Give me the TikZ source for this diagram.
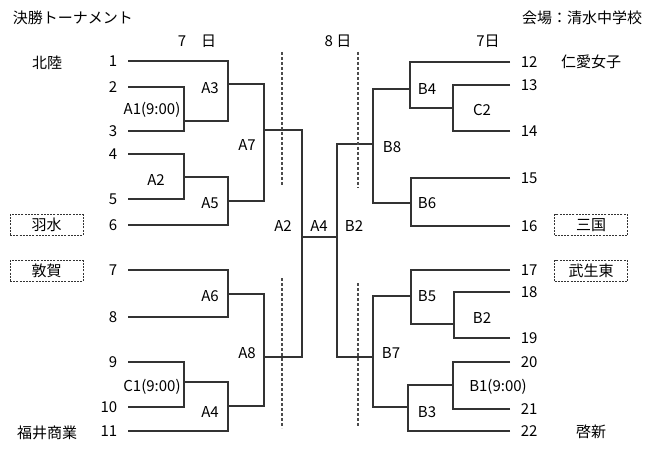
\documentclass[tikz,border=0pt]{standalone}
\usepackage{fontspec}
\setmainfont{Noto Sans CJK JP}
\usepackage{tikz}
\tikzstyle{num}=[draw=none, inner sep=.2mm]
\tikzstyle{team}=[draw=none, inner sep=.2mm]
\tikzstyle{box}=[draw, dash pattern=on 2pt off 1.2pt, line width=1pt, black!80, text=black, minimum width=73pt, minimum height=21pt, inner sep=0pt]
\tikzstyle{m}=[draw=none, inner sep=.2mm]
\tikzstyle{br}=[line width=1.3pt, black!80]
\tikzstyle{sep}=[dash pattern=on 3pt off 2pt, line width=1.3pt, black!70]

\begin{document}
\begin{tikzpicture}[x=1pt, y=-1pt, font=\fontsize{15}{17}\selectfont]
\useasboundingbox (0,0) rectangle (650,462);
% seeds
\foreach \n/\y in {1/61, 2/87, 3/131, 4/154, 5/199, 6/225, 7/270, 8/317, 9/362, 10/407, 11/431}{
  \node[num, anchor=east] (n\n) at (118,\y) {\n};
  \coordinate (s\n) at (128,\y);
}
\foreach \n/\y in {12/62, 13/85, 14/131, 15/178, 16/226, 17/270, 18/292, 19/338, 20/362, 21/409, 22/431}{
  \node[num, anchor=west] (n\n) at (520,\y) {\n};
  \coordinate (s\n) at (510,\y);
}
% match points
\foreach \m/\x/\y in {a1/184/121, a3/228/84, a2/184/177, a5/228/201, a7/264/130,
    a6/228/294, c1/184/382, a4/228/406, a8/264/357, fl/302/237, fr/337/237,
    b8/373/144, b4/410/89, c2/453/108, b6/411/203, b7/373/357, b5/411/296,
    b2/454/324, b3/408/407, b1/453/385}
  \coordinate (\m) at (\x,\y);
\foreach \f/\t in {s1/a3, s2/a1, s3/a1, a1/a3, a3/a7, s4/a2, s5/a2, a2/a5, s6/a5,
    a5/a7, a7/fl, s7/a6, s8/a6, a6/a8, s9/c1, s10/c1, c1/a4, s11/a4, a4/a8, a8/fl,
    s12/b4, s13/c2, s14/c2, c2/b4, b4/b8, s15/b6, s16/b6, b6/b8, b8/fr, s17/b5,
    s18/b2, s19/b2, b2/b5, b5/b7, s20/b1, s21/b1, b1/b3, s22/b3, b3/b7, b7/fr}
  \draw[br] (\f) -| (\t);
\draw[br] (fl) -- (fr);
% match labels
\foreach \n/\t/\x/\y in {la3/A3/210/88, la1/A1(9:00)/152/110, la7/A7/247/145,
    la2/A2/156/180, la5/A5/210/203, la6/A6/210/296, la8/A8/247/353,
    lc1/C1(9:00)/152/387, la4/A4/210/412, lf1/A2/283/226, lf2/A4/319/226,
    lf3/B2/354/226, lb4/B4/427/89, lc2/C2/482/110, lb8/B8/392/147,
    lb6/B6/427/203, lb5/B5/427/296, lb2/B2/482/318, lb7/B7/391/353,
    lb1/B1(9:00)/498/387, lb3/B3/427/412}
  \node[m] (\n) at (\x,\y) {\t};
% day split
\draw[sep] (282,52) -- (282,185);
\draw[sep] (282,278) -- (282,428);
\draw[sep] (358,52) -- (358,188);
\draw[sep] (358,283) -- (358,427);
% headings
\node[team, anchor=west] (title) at (12,18) {決勝トーナメント};
\node[team, anchor=east] (venue) at (643,18) {会場：清水中学校};
\node[team] (day1) at (197,41) {7　日};
\node[team] (day2) at (338,41) {8 日};
\node[team] (day3) at (488,41) {7日};
% teams
\node[team] (t1) at (47,63) {北陸};
\node[box] (t6) at (46.5,225) {羽水};
\node[box] (t7) at (46.5,271) {敦賀};
\node[team] (t11) at (47,433) {福井商業};
\node[team] (t12) at (591,62) {仁愛女子};
\node[box] (t16) at (591,225) {三国};
\node[box] (t17) at (591,271) {武生東};
\node[team] (t22) at (591,432) {啓新};
\end{tikzpicture}
\end{document}
